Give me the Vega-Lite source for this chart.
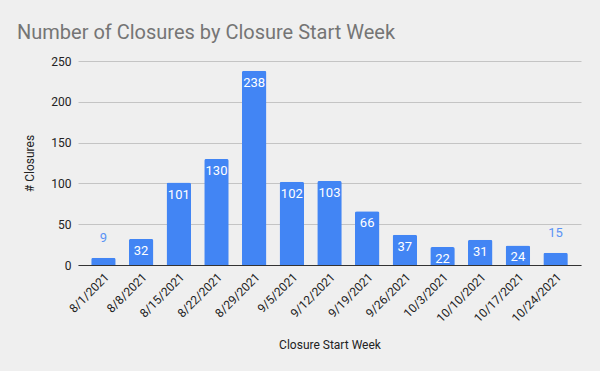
{
  "$schema": "https://vega.github.io/schema/vega-lite/v6.json",
  "autosize": "none",
  "width": 503,
  "height": 204,
  "padding": {"left": 78, "top": 61, "right": 19, "bottom": 106},
  "background": "#efefef",
  "title": {
    "text": "Number of Closures by Closure Start Week",
    "anchor": "start",
    "frame": "group",
    "dx": -61,
    "offset": 12,
    "font": "Roboto",
    "fontSize": 20,
    "fontWeight": "normal",
    "color": "#757575"
  },
  "config": {
    "view": {"stroke": null},
    "font": "Roboto",
    "axis": {
      "labelFont": "Roboto",
      "titleFont": "Roboto",
      "labelFontSize": 12,
      "titleFontSize": 12,
      "labelColor": "#222222",
      "titleColor": "#222222",
      "titleFontWeight": "normal"
    }
  },
  "data": {
    "values": [
      {"week": "8/1/2021", "n": 9},
      {"week": "8/8/2021", "n": 32},
      {"week": "8/15/2021", "n": 101},
      {"week": "8/22/2021", "n": 130},
      {"week": "8/29/2021", "n": 238},
      {"week": "9/5/2021", "n": 102},
      {"week": "9/12/2021", "n": 103},
      {"week": "9/19/2021", "n": 66},
      {"week": "9/26/2021", "n": 37},
      {"week": "10/3/2021", "n": 22},
      {"week": "10/10/2021", "n": 31},
      {"week": "10/17/2021", "n": 24},
      {"week": "10/24/2021", "n": 15}
    ]
  },
  "encoding": {
    "x": {
      "field": "week",
      "type": "nominal",
      "sort": null,
      "scale": {"paddingInner": 0.35, "paddingOuter": 0.35},
      "axis": {
        "title": "Closure Start Week",
        "labelAngle": -45,
        "ticks": false,
        "domain": true,
        "domainColor": "#333333",
        "labelPadding": 6,
        "titlePadding": 16
      }
    },
    "y": {
      "field": "n",
      "type": "quantitative",
      "scale": {"domain": [0, 250]},
      "axis": {
        "title": "# Closures",
        "values": [0, 50, 100, 150, 200, 250],
        "ticks": false,
        "domain": false,
        "gridColor": "#c4c4c4",
        "labelPadding": 7,
        "titlePadding": 14
      }
    }
  },
  "layer": [
    {
      "mark": {"type": "bar", "color": "#4285F4", "cornerRadiusTopLeft": 2, "cornerRadiusTopRight": 2}
    },
    {
      "transform": [{"filter": "datum.n >= 20"}],
      "mark": {"type": "text", "color": "#ffffff", "baseline": "middle", "dy": 12, "fontSize": 13},
      "encoding": {"text": {"field": "n", "type": "quantitative"}}
    },
    {
      "transform": [{"filter": "datum.n < 20"}],
      "mark": {"type": "text", "color": "#5b93f5", "baseline": "middle", "dy": -20, "fontSize": 13},
      "encoding": {"text": {"field": "n", "type": "quantitative"}}
    }
  ]
}
